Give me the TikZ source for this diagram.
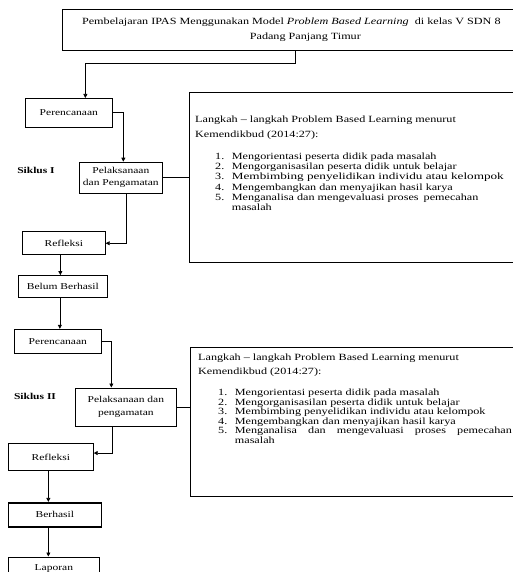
\documentclass[tikz,border=0pt]{standalone}
\usepackage{fontspec}
\setmainfont{Liberation Serif}[FakeStretch=1.28]
\usetikzlibrary{positioning, arrows.meta}
\tikzset{
  box/.style={rectangle, draw, line width=0.7pt, align=center, inner sep=1pt, font=\fontsize{9}{12.5}\selectfont},
  boldbox/.style={box, line width=1.6pt},
  panel/.style={rectangle, draw, line width=0.7pt, anchor=north west},
  steptext/.style={anchor=north west, align=left, inner sep=0pt, font=\fontsize{9.5}{10.2}\selectfont},
  siklus/.style={font=\bfseries\fontsize{9}{11}\selectfont},
  arrow/.style={-{Triangle[length=4pt, width=4pt]}, line width=0.7pt},
  link/.style={line width=0.7pt},
}
\newcommand{\stepline}[2]{\hspace*{20pt}\makebox[16.7pt][l]{#1}#2}

\begin{document}
\begin{tikzpicture}[x=1pt, y=-1pt]
  \useasboundingbox (0,0) rectangle (513,572);

  % Nodes
  \node[box, anchor=north west, minimum width=486pt, minimum height=41pt, font=\fontsize{9.5}{15.5}\selectfont] (title) at (62,9)
    {Pembelajaran IPAS Menggunakan Model \textit{Problem Based Learning}\ \ di kelas V SDN 8\hspace*{28pt}\\Padang Panjang Timur};

  \node[box, anchor=north west, minimum width=87pt, minimum height=29pt] (perencA) at (25,98) {Perencanaan};
  \node[box, below=34pt of perencA, xshift=52pt, minimum width=83pt, minimum height=31pt] (pelaksA) {Pelaksanaan\\dan Pengamatan};
  \node[box, below=38pt of pelaksA, xshift=-57pt, minimum width=83pt, minimum height=23pt] (refleksiA) {Refleksi};
  \node[box, below=20pt of refleksiA, xshift=-1pt, minimum width=89pt, minimum height=22pt] (belum) {Belum Berhasil};
  \node[siklus] (siklusA) at (36,170) {Siklus I};

  \node[box, below=31pt of belum, xshift=-5pt, minimum width=87pt, minimum height=24pt] (perencB) {Perencanaan};
  \node[box, below=34pt of perencB, xshift=68pt, minimum width=101pt, minimum height=38pt] (pelaksB) {Pelaksanaan dan\\pengamatan};
  \node[box, below=17pt of pelaksB, xshift=-75pt, minimum width=85pt, minimum height=27pt] (refleksiB) {Refleksi};
  \node[boldbox, below=31pt of refleksiB, xshift=4pt, minimum width=93pt, minimum height=24pt] (berhasil) {Berhasil};
  \node[box, below=29pt of berhasil, xshift=-1pt, minimum width=91pt, minimum height=23pt] (laporan) {Laporan};
  \node[siklus] (siklusB) at (35,396) {Siklus II};

  % Steps panels
  \node[panel, minimum width=327pt, minimum height=170pt] (langkahA) at (189.3,91.7) {};
  \node[steptext] (stepsA) at ([xshift=5.7pt, yshift=-24pt]langkahA.north west)
    {Langkah – langkah Problem Based Learning menurut\\[4.8pt]
     Kemendikbud (2014:27):\\[11.8pt]
     \stepline{1.}{Mengorientasi peserta didik pada masalah}\\
     \stepline{2.}{Mengorganisasilan peserta didik untuk belajar}\\
     \stepline{3.}{\scalebox{1.085}[1]{Membimbing penyelidikan individu atau kelompok}}\\
     \stepline{4.}{Mengembangkan dan menyajikan hasil karya}\\
     \stepline{5.}{Menganalisa dan mengevaluasi proses\hspace{2pt} pemecahan}\\
     \stepline{}{masalah}};

  \node[panel, minimum width=326pt, minimum height=148.5pt] (langkahB) at (190,347.3) {};
  \node[steptext, font=\fontsize{9.5}{9.6}\selectfont] (stepsB) at ([xshift=8pt, yshift=-6.8pt]langkahB.north west)
    {Langkah – langkah Problem Based Learning menurut\\[4pt]
     Kemendikbud (2014:27):\\[11.4pt]
     \stepline{1.}{Mengorientasi peserta didik pada masalah}\\
     \stepline{2.}{Mengorganisasilan peserta didik untuk belajar}\\
     \stepline{3.}{Membimbing penyelidikan individu atau kelompok}\\
     \stepline{4.}{Mengembangkan dan menyajikan hasil karya}\\
     \stepline{5.}{\makebox[277pt][s]{Menganalisa\hfill dan\hfill mengevaluasi\hfill proses\hfill pemecahan}}\\
     \stepline{}{masalah}};

  % Arrows
  \draw[arrow] ([xshift=-10pt]title.south) -- ++(0,13) -| ([xshift=16.5pt]perencA.north);
  \draw[arrow] (perencA.east) -| ([xshift=2.5pt]pelaksA.north);
  \draw[link] (pelaksA.east) -- (pelaksA.east -| langkahA.west);
  \draw[arrow] ([xshift=5.5pt]pelaksA.south) |- (refleksiA.east);
  \draw[arrow] ([xshift=-3.5pt]refleksiA.south) -- ([xshift=-3.5pt]refleksiA.south |- belum.north);
  \draw[arrow] ([xshift=-3pt]belum.south) -- ([xshift=-3pt]belum.south |- perencB.north);
  \draw[arrow] (perencB.east) -| ([xshift=-14.5pt]pelaksB.north);
  \draw[link] (pelaksB.east) -- (pelaksB.east -| langkahB.west);
  \draw[arrow] ([xshift=-13.5pt]pelaksB.south) |- ([yshift=4pt]refleksiB.east);
  \draw[arrow] ([xshift=-2.5pt]refleksiB.south) -- ([xshift=-2.5pt]refleksiB.south |- berhasil.north);
  \draw[arrow] ([xshift=-2.5pt]refleksiB.south |- berhasil.south) -- ([xshift=-2.5pt]refleksiB.south |- laporan.north);

\end{tikzpicture}
\end{document}
